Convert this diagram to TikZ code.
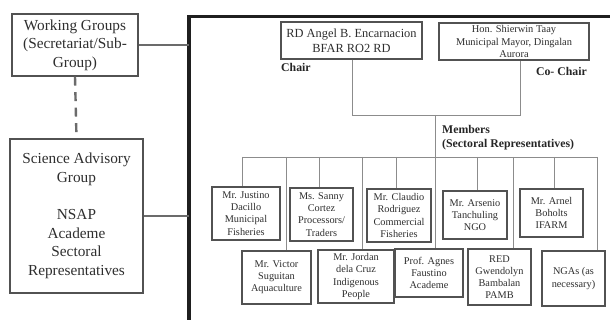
\documentclass[tikz,border=0pt]{standalone}
\usepackage{fontspec}
\setmainfont{Liberation Serif}
\begin{document}
\begin{tikzpicture}[x=1pt,y=-1pt,
  box/.style={draw=black!68,line width=1.2pt,align=center,inner sep=0pt,text=black!82},
  bigf/.style={font=\fontsize{15.3}{18.6}\selectfont},
  chf/.style={font=\fontsize{12.4}{15}\selectfont},
  cof/.style={font=\fontsize{10.4}{12.4}\selectfont},
  memf/.style={font=\fontsize{10.3}{12.1}\selectfont},
  lbl/.style={font=\fontsize{11.8}{13.2}\selectfont\bfseries,text=black!85,inner sep=0pt},
  thin/.style={draw=black!45,line width=0.9pt},
  mid/.style={draw=black!58,line width=2pt},
  frame/.style={draw=black!88,line width=3.4pt}]
\useasboundingbox (0,0) rectangle (610,320);
% left boxes
\node[box,bigf,minimum width=126pt,minimum height=62pt] (wg) at (75,45)
  {Working Groups\\(Secretariat/Sub-\\Group)};
\node[box,bigf,minimum width=133pt,minimum height=154pt] (sag) at (76.5,216)
  {Science Advisory\\Group\\[18.6pt]NSAP\\Academe\\Sectoral\\Representatives};
\draw[mid,dash pattern=on 9pt off 6.5pt,line width=2.4pt] (wg.south) -- (sag.north);
% frame
\coordinate (fl) at (189,16.5);
\coordinate (fb) at (189,322);
\coordinate (fr) at (612,16.5);
\draw[frame] (fb) -- (fl) -- (fr);
\draw[mid] (wg.east) -- (wg.east -| fl);
\draw[mid] (sag.east) -- (sag.east -| fl);
% chairs
\node[box,chf,minimum width=141pt,minimum height=37pt] (chair) at (351.5,40.5)
  {RD Angel B. Encarnacion\\BFAR RO2 RD};
\node[box,cof,minimum width=150pt,minimum height=37pt] (cochair) at (514,41.5)
  {Hon. Shierwin Taay\\Municipal Mayor, Dingalan\\Aurora};
\node[lbl,anchor=west] (chairl) at (281,67.5) {Chair};
\node[lbl,anchor=east] (cochairl) at (587,71) {Co- Chair};
\node[lbl,anchor=north west,align=left] (meml) at (442,125.5) {Members\\(Sectoral Representatives)};
\coordinate (ja) at (352,115);
\coordinate (jb) at (520,115);
\coordinate (jm) at (435,115);
\draw[thin] (chair.south -| ja) -- (ja) -- (jb) -- (cochair.south -| jb);
% member boxes
\node[box,memf,minimum width=68pt,minimum height=53pt] (justino) at (246,213.5)
  {Mr. Justino\\Dacillo\\Municipal\\Fisheries};
\node[box,memf,minimum width=63pt,minimum height=53pt] (sanny) at (321.5,214.5)
  {Ms. Sanny\\Cortez\\Processors/\\Traders};
\node[box,memf,minimum width=64pt,minimum height=53pt] (claudio) at (399,215.5)
  {Mr. Claudio\\Rodriguez\\Commercial\\Fisheries};
\node[box,memf,minimum width=64pt,minimum height=48pt] (arsenio) at (475,215)
  {Mr. Arsenio\\Tanchuling\\NGO};
\node[box,memf,minimum width=63pt,minimum height=48pt] (arnel) at (551.5,213)
  {Mr. Arnel\\Boholts\\IFARM};
\node[box,memf,minimum width=69pt,minimum height=53pt] (victor) at (276.5,277.5)
  {Mr. Victor\\Suguitan\\Aquaculture};
\node[box,memf,minimum width=76pt,minimum height=53pt] (jordan) at (356,276.5)
  {Mr. Jordan\\dela Cruz\\Indigenous\\People};
\node[box,memf,minimum width=68pt,minimum height=48pt] (agnes) at (429,273)
  {Prof. Agnes\\Faustino\\Academe};
\node[box,memf,minimum width=63pt,minimum height=56pt] (red) at (499.5,277)
  {RED\\Gwendolyn\\Bambalan\\PAMB};
\node[box,memf,minimum width=63pt,minimum height=55pt] (ngas) at (573.5,278.5)
  {NGAs (as\\necessary)};
% bus
\coordinate (b1) at (242,157);
\coordinate (b2) at (286,157);
\coordinate (b3) at (319,157);
\coordinate (b4) at (362,157);
\coordinate (b5) at (396,157);
\coordinate (b6) at (435,157);
\coordinate (b7) at (477,157);
\coordinate (b8) at (513,157);
\coordinate (b9) at (554,157);
\coordinate (b10) at (597,157);
\draw[thin] (jm) -- (b6);
\draw[thin] (b1) -- (b10);
\draw[thin] (b1) -- (b1 |- justino.north);
\draw[thin] (b2) -- (b2 |- victor.north);
\draw[thin] (b3) -- (b3 |- sanny.north);
\draw[thin] (b4) -- (b4 |- jordan.north);
\draw[thin] (b5) -- (b5 |- claudio.north);
\draw[thin] (b6) -- (b6 |- agnes.north);
\draw[thin] (b7) -- (b7 |- arsenio.north);
\draw[thin] (b8) -- (b8 |- red.north);
\draw[thin] (b9) -- (b9 |- arnel.north);
\draw[thin] (b10) -- (b10 |- ngas.north);
\end{tikzpicture}
\end{document}
